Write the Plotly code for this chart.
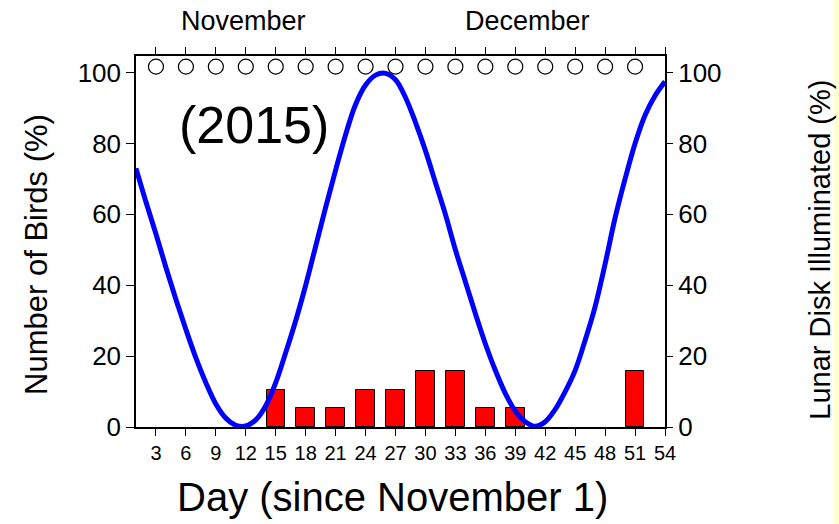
import plotly.graph_objects as go

# Days since November 1 with the percentage of birds recorded
bird_days = [15, 18, 21, 24, 27, 30, 33, 36, 39, 51]
bird_pct = [10.53, 5.26, 5.26, 10.53, 10.53, 15.79, 15.79, 5.26, 5.26, 15.79]

# Daily lunar disk illumination (%), days 1..54
moon_days = list(range(1, 55))
moon_pct = [73, 63.5, 54.5, 45, 36, 27.5, 19.5, 12.5, 6.5, 2.5,
            0.5, 0.3, 2, 6, 12.5, 21, 30, 40, 51, 62,
            72.5, 82.5, 91, 96.5, 99.3, 99.8, 98, 93, 86, 78,
            69, 60, 50, 41, 32, 23.5, 16, 9.5, 4.5, 1.5,
            0.2, 1.5, 5, 10, 16, 24.5, 34, 46, 59, 70,
            80, 88, 93.5, 97.5]

# Sampling days marked along the top of the panel
survey_days = [3, 6, 9, 12, 15, 18, 21, 24, 27, 30, 33, 36, 39, 42, 45, 48, 51]
survey_level = [101.7] * len(survey_days)

x_ticks = [3, 6, 9, 12, 15, 18, 21, 24, 27, 30, 33, 36, 39, 42, 45, 48, 51, 54]
y_ticks = [0, 20, 40, 60, 80, 100]

FONT = "Liberation Sans, Arial, sans-serif"

fig = go.Figure()
fig.add_trace(go.Bar(
    x=bird_days, y=bird_pct, width=1.85,
    marker=dict(color="#FF0000", line=dict(color="black", width=1)),
    showlegend=False,
))
fig.add_trace(go.Scatter(
    x=moon_days, y=moon_pct, mode="lines",
    line=dict(color="#0000FF", width=5, shape="spline", smoothing=1),
    showlegend=False,
))
fig.add_trace(go.Scatter(
    x=survey_days, y=survey_level, mode="markers",
    marker=dict(symbol="circle-open", size=15, color="black", line=dict(width=1.2)),
    showlegend=False, cliponaxis=False,
))
# Right-hand axis for the lunar illumination scale
fig.add_trace(go.Scatter(x=[1], y=[0], yaxis="y2", mode="markers",
                         marker=dict(opacity=0), showlegend=False, hoverinfo="skip"))


def label(text, x, y, size, angle=0, xref="paper", yref="paper"):
    return dict(text=text, xref=xref, yref=yref, x=x, y=y, xanchor="center",
                yanchor="middle", textangle=angle, showarrow=False,
                font=dict(size=size, family=FONT, color="black"))


fig.update_layout(
    width=839, height=524,
    margin=dict(l=136, r=174, t=56, b=97),
    paper_bgcolor="white", plot_bgcolor="white",
    font=dict(family=FONT, color="black"),
    bargap=0,
    xaxis=dict(
        range=[1, 54], tickvals=x_ticks, ticks="outside", ticklen=7, tickwidth=1.2,
        tickcolor="black", showline=True, linecolor="black", linewidth=1.5,
        mirror="ticks", showgrid=False, zeroline=False,
        tickfont=dict(size=20, family=FONT),
    ),
    yaxis=dict(
        range=[0, 104.7], tickvals=y_ticks, ticks="outside", ticklen=8, tickwidth=1.2,
        tickcolor="black", showline=True, linecolor="black", linewidth=1.5,
        mirror=True, showgrid=False, zeroline=False,
        tickfont=dict(size=26, family=FONT),
    ),
    yaxis2=dict(
        range=[0, 104.7], tickvals=y_ticks, ticks="outside", ticklen=7, tickwidth=1.2,
        tickcolor="black", overlaying="y", side="right", showgrid=False,
        zeroline=False, showline=False,
        tickfont=dict(size=26, family=FONT),
    ),
    shapes=[dict(type="rect", xref="paper", yref="paper", x0=1.3195, x1=1.36,
                 y0=-0.3, y1=1.2, fillcolor="#FFFFD2", line=dict(width=0), layer="below")],
    annotations=[
        label("November", 0.204, 1.093, 27),
        label("December", 0.741, 1.093, 27),
        label("(2015)", 12.8, 85.3, 52, xref="x", yref="y"),
        label("Day (since November 1)", 0.484, -0.189, 40),
        label("Number of Birds (%)", -0.187, 0.464, 31, angle=-90),
        label("Lunar Disk Illuminated (%)", 1.293, 0.478, 29, angle=-90),
    ],
)

fig.write_html("out.html")
